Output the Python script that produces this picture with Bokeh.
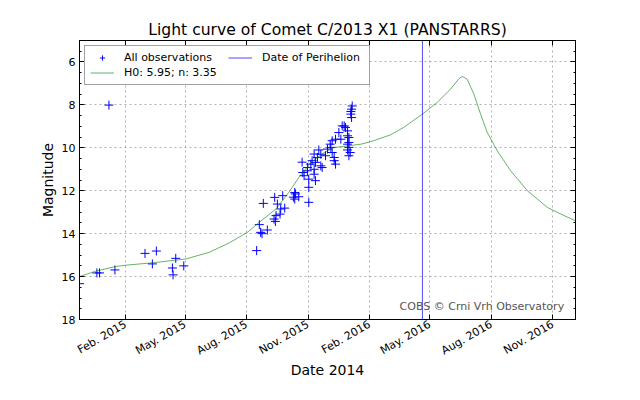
import math
import pandas as pd
from bokeh.plotting import figure
from bokeh.models import (Range1d, DatetimeAxis, LinearAxis, MonthsTicker, DatetimeTickFormatter,
                          SingleIntervalTicker, Legend, LegendItem, Label, CustomJSTickFormatter)
from bokeh.embed import file_html
from bokeh.resources import INLINE

# ---- data ----
obs_dates = [
    "2014-11-24", "2014-12-20", "2014-12-24", "2015-01-07", "2015-01-16",
    "2015-03-02", "2015-03-13", "2015-03-19", "2015-04-12", "2015-04-13",
    "2015-04-17", "2015-04-29",
    "2015-08-16", "2015-08-20", "2015-08-22", "2015-08-24", "2015-08-26",
    "2015-09-01", "2015-09-11", "2015-09-12", "2015-09-13", "2015-09-14",
    "2015-09-16", "2015-09-20", "2015-09-21", "2015-09-24", "2015-09-27",
    "2015-10-10", "2015-10-12", "2015-10-13", "2015-10-18", "2015-10-12",
    "2015-10-23", "2015-10-24", "2015-10-26", "2015-10-31", "2015-10-31",
    "2015-11-02", "2015-11-02", "2015-11-02", "2015-11-05", "2015-11-07",
    "2015-11-10", "2015-11-10", "2015-11-10", "2015-11-12", "2015-11-12",
    "2015-11-15", "2015-11-17", "2015-11-20", "2015-11-20", "2015-11-22",
    "2015-11-27", "2015-11-30", "2015-12-04", "2015-12-05", "2015-12-07",
    "2015-12-07", "2015-12-10", "2015-12-10", "2015-12-12", "2015-12-12",
    "2015-12-17", "2015-12-20", "2015-12-22", "2015-12-25", "2015-12-27",
    "2015-12-30", "2015-12-30", "2015-12-30", "2015-12-30",
    "2016-01-01", "2016-01-01", "2016-01-01", "2016-01-01", "2016-01-03",
    "2016-01-04", "2016-01-04", "2016-01-05", "2016-01-05", "2016-01-06",
]
obs_mags = [
    16.33, 15.83, 15.83, 8.01, 15.69,
    14.92, 15.41, 14.81, 15.60, 15.92,
    15.15, 15.50,
    14.79, 13.58, 13.94, 14.00, 12.59,
    13.83, 13.32, 12.31, 13.43, 13.16,
    12.62, 13.09, 12.85, 12.23, 12.81,
    12.30, 12.08, 12.15, 12.28, 12.39,
    10.67, 11.15, 11.30, 10.92, 11.07,
    12.54, 11.84, 11.46, 10.76, 10.60,
    10.29, 11.00, 11.23, 10.68, 11.53,
    10.45, 10.10, 10.84, 10.30, 10.92,
    10.37, 10.06, 9.83, 9.98, 9.67,
    10.22, 10.45, 10.60, 9.60, 10.76,
    9.29, 9.60, 8.98, 8.98, 9.05,
    9.21, 9.44, 9.83, 10.10,
    9.52, 9.75, 9.98, 10.37, 10.22,
    8.43, 8.31, 8.20, 8.59, 8.05,
]

fit_dates = [
    "2014-11-24", "2014-12-18", "2015-01-17", "2015-02-01", "2015-03-13",
    "2015-05-02", "2015-06-06", "2015-07-06", "2015-08-02", "2015-08-20",
    "2015-09-14", "2015-10-03", "2015-10-20", "2015-10-28", "2015-11-05",
    "2015-11-25", "2015-12-10", "2015-12-30", "2016-01-19", "2016-02-02",
    "2016-03-03", "2016-03-23", "2016-04-20", "2016-05-12", "2016-06-01",
    "2016-06-11", "2016-06-15", "2016-06-19", "2016-06-22", "2016-06-26",
    "2016-07-06", "2016-07-16", "2016-07-26", "2016-08-10", "2016-08-30",
    "2016-09-24", "2016-10-24", "2016-11-18", "2016-12-05",
]
fit_mags = [
    16.00, 15.75, 15.53, 15.47, 15.36,
    15.18, 14.87, 14.43, 13.94, 13.47,
    12.85, 12.08, 11.30, 11.00, 10.68,
    10.22, 9.99, 9.91, 9.83, 9.72,
    9.40, 9.05, 8.43, 7.89, 7.27,
    6.88, 6.74, 6.68, 6.72, 6.81,
    7.50, 8.43, 9.29, 10.14, 11.07,
    12.00, 12.78, 13.16, 13.40,
]

perihelion_date = "2016-04-20"
x_start, x_end = "2014-11-24", "2016-12-05"
mag_faint, mag_bright = 18, 5
tick_months = [1, 4, 7, 10]   # 0-based months: Feb, May, Aug, Nov
credit_date, credit_mag = "2016-11-18", 17.7

FONT = "DejaVu Sans"

def ts(d):
    return pd.Timestamp(d)

p = figure(width=632, height=392, x_axis_type="datetime", output_backend="svg",
           toolbar_location=None,
           x_range=Range1d(ts(x_start), ts(x_end)),
           y_range=Range1d(mag_faint, mag_bright),
           min_border_left=79, min_border_right=57, min_border_top=40, min_border_bottom=73,
           title="Light curve of Comet C/2013 X1 (PANSTARRS)")

p.title.align = "center"
p.title.text_font = FONT
p.title.text_font_size = "15.6px"
p.title.text_font_style = "normal"
p.title.text_color = "black"
p.title.standoff = 4

p.outline_line_color = "black"
p.outline_line_width = 1
p.background_fill_color = "white"
p.border_fill_color = "white"

xticker = MonthsTicker(months=tick_months)
yticker = SingleIntervalTicker(interval=2, num_minor_ticks=4)

xa = p.xaxis[0]
xa.ticker = xticker
xa.formatter = DatetimeTickFormatter(days="%b. %Y", months="%b. %Y", years="%b. %Y")
xa.major_label_orientation = math.pi / 6
xa.axis_label = "Date 2014"

ya = p.yaxis[0]
ya.ticker = yticker
ya.axis_label = "Magnitude"

blank = CustomJSTickFormatter(code="return ''")
top_axis = DatetimeAxis(ticker=xticker, formatter=blank)
right_axis = LinearAxis(ticker=yticker, formatter=blank)
p.add_layout(top_axis, "above")
p.add_layout(right_axis, "right")

for ax in [xa, ya, top_axis, right_axis]:
    ax.axis_line_color = "black"
    ax.major_tick_line_color = "black"
    ax.minor_tick_line_color = "black"
    ax.major_tick_in = 5
    ax.major_tick_out = 0
    ax.minor_tick_in = 2
    ax.minor_tick_out = 0
    ax.major_label_text_font = FONT
    ax.major_label_text_font_size = "11px"
    ax.major_label_text_color = "black"
    ax.axis_label_text_font = FONT
    ax.axis_label_text_font_size = "14px"
    ax.axis_label_text_font_style = "normal"
    ax.axis_label_text_color = "black"
    ax.major_label_standoff = 4
    ax.axis_label_standoff = 3
for ax in [xa, top_axis]:
    ax.minor_tick_in = 0
xa.axis_label_standoff = -4

p.xgrid.ticker = xticker
p.ygrid.ticker = yticker
for g in [p.xgrid, p.ygrid]:
    g.grid_line_color = "#b0b0b0"
    g.grid_line_dash = "2 3"
    g.grid_line_width = 1

r_obs = p.scatter(x=[ts(d) for d in obs_dates], y=obs_mags, marker="cross", size=9,
                  line_color="#0000ff", line_width=1)
r_fit = p.line(x=[ts(d) for d in fit_dates], y=fit_mags, line_color="#008000",
               line_alpha=0.6, line_width=1)
r_peri = p.line(x=[ts(perihelion_date), ts(perihelion_date)], y=[mag_faint, mag_bright],
                line_color="#0000ff", line_alpha=0.7, line_width=1)

legend = Legend(items=[
    LegendItem(label="All observations", renderers=[r_obs]),
    LegendItem(label="H0: 5.95; n: 3.35", renderers=[r_fit]),
    LegendItem(label="Date of Perihelion", renderers=[r_peri]),
], location="top_left", nrows=2, orientation="vertical")
legend.margin = 5
legend.padding = 5
legend.spacing = 2
legend.label_standoff = 10
legend.glyph_width = 24
legend.glyph_height = 13
legend.label_height = 13
legend.label_width = 102
legend.label_text_font = FONT
legend.label_text_font_size = "11px"
legend.label_text_color = "black"
legend.border_line_color = "#444444"
legend.border_line_width = 1
legend.background_fill_color = "white"
legend.background_fill_alpha = 1
p.add_layout(legend)

credit = Label(x=ts(credit_date).timestamp() * 1000, y=credit_mag,
               text="COBS \u00a9 Crni Vrh Observatory",
               text_align="right", text_baseline="bottom", text_color="#555555",
               text_font=FONT, text_font_size="11px")
p.add_layout(credit)

open("out.html", "w").write(file_html(p, INLINE))
